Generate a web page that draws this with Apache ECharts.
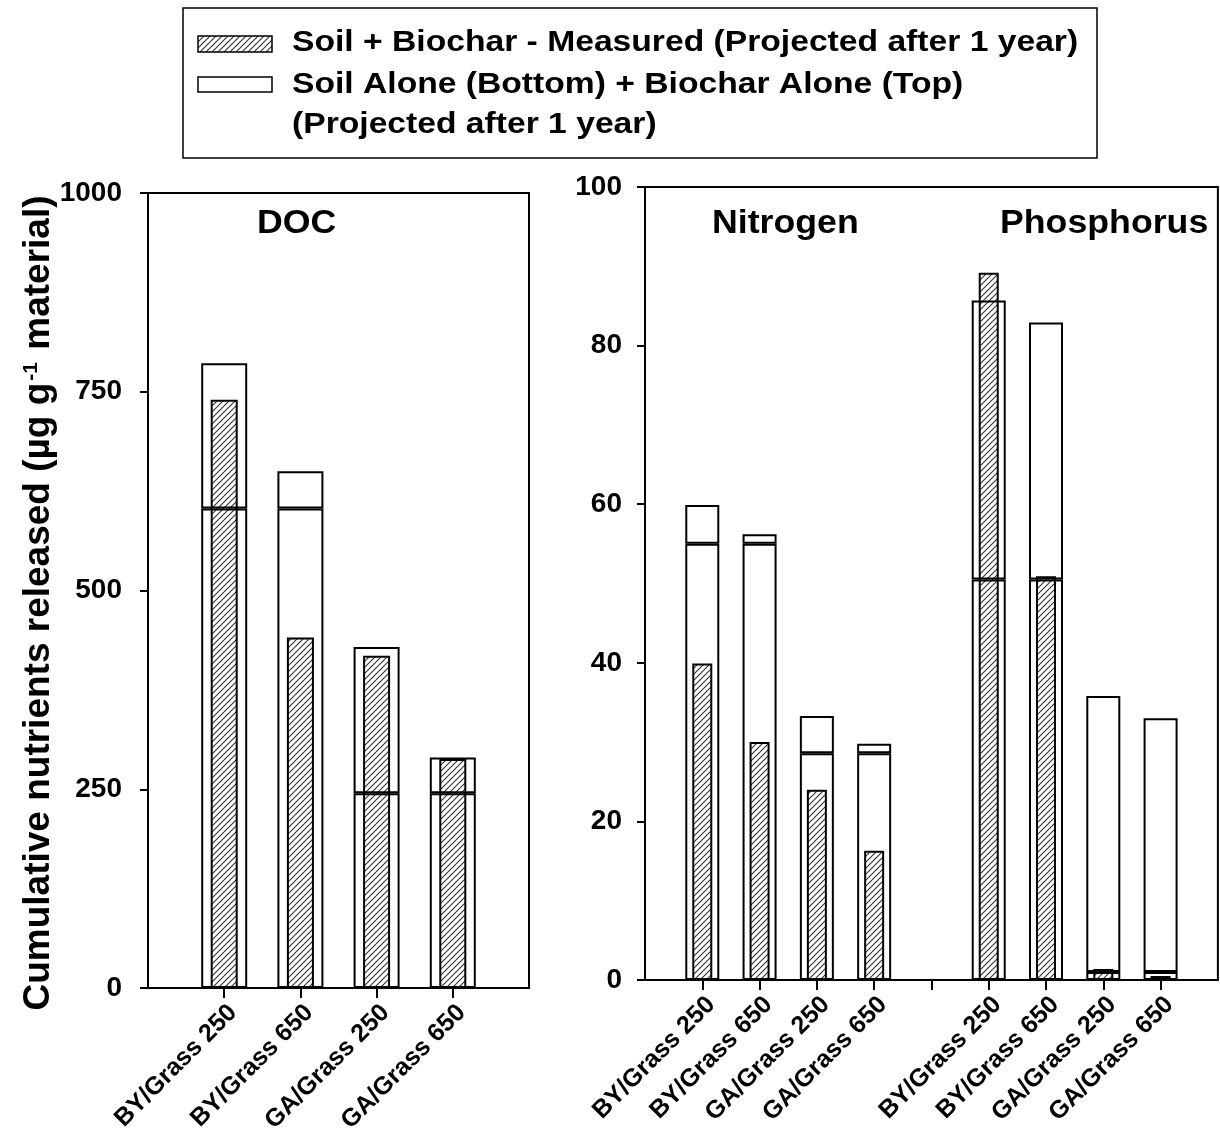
<!DOCTYPE html>
<html>
<head>
<meta charset="utf-8">
<script src="https://cdn.jsdelivr.net/npm/echarts@6/dist/echarts.min.js"></script>
<style>
  html, body { margin: 0; padding: 0; background: #fff; }
  #chart { width: 1220px; height: 1141px; }
</style>
</head>
<body>
<div id="chart"></div>
<script>
// values
const categories = ['BY/Grass 250', 'BY/Grass 650', 'GA/Grass 250', 'GA/Grass 650'];

const docSoil = [603, 603, 245, 245];
const docBiochar = [183, 47, 184, 45];
const docMeasured = [740, 441, 418, 288];

const nSoil = [55, 55, 28.6, 28.6];
const nBiochar = [4.9, 1.2, 4.7, 1.2];
const nMeasured = [39.9, 30, 24, 16.3];

const pSoil = [50.5, 50.5, 1.0, 1.0];
const pBiochar = [35.2, 32.4, 34.8, 32.0];
const pMeasured = [89.2, 50.9, 1.4, 0.5];

const docTicks = [0, 250, 500, 750, 1000];
const nutrientTicks = [0, 20, 40, 60, 80, 100];

const legendLabels = [
    'Soil + Biochar - Measured (Projected after 1 year)',
    'Soil Alone (Bottom) + Biochar Alone (Top)',
    '(Projected after 1 year)'
];
const panelTitles = ['DOC', 'Nitrogen', 'Phosphorus'];
const yTitle = 'Cumulative nutrients released (µg g{sup|-1} material)';

const FONT = '"Liberation Sans", Arial, sans-serif';

// diagonal hatch pattern
const hatch = (() => {
    const c = document.createElement('canvas');
    c.width = 6; c.height = 6;
    const g = c.getContext('2d');
    g.fillStyle = '#fff';
    g.fillRect(0, 0, 6, 6);
    g.strokeStyle = '#333';
    g.lineWidth = 1.1;
    g.beginPath();
    g.moveTo(-1, 7); g.lineTo(7, -1);
    g.moveTo(-4, 4); g.lineTo(4, -4);
    g.moveTo(2, 10); g.lineTo(10, 2);
    g.stroke();
    return { image: c, repeat: 'repeat' };
})();

const leftCats = [''].concat(categories, ['']);
const rightCats = [''].concat(categories, [''], categories, ['']);
const pad = (a) => ['-'].concat(a, ['-']);
const padTwo = (a, b) => ['-'].concat(a, ['-'], b, ['-']);

const tickIdx = (n) => (i) => i > 0 && i < n - 1;

const makeX = (gridIndex, data, show) => ({
    type: 'category',
    gridIndex: gridIndex,
    data: data,
    boundaryGap: false,
    show: show,
    axisLine: { lineStyle: { color: '#000', width: 2 } },
    axisTick: { show: true, interval: tickIdx(data.length), length: 10, lineStyle: { color: '#000', width: 2 } },
    axisLabel: {
        interval: 0, rotate: 45, margin: 12, verticalAlign: 'top',
        color: '#000', fontFamily: FONT, fontWeight: 'bold', fontSize: 25
    },
    splitLine: { show: false }
});

const makeY = (gridIndex, ticks, margin) => ({
    type: 'value',
    gridIndex: gridIndex,
    min: ticks[0],
    max: ticks[ticks.length - 1],
    interval: ticks[1] - ticks[0],
    axisLine: { show: true, lineStyle: { color: '#000', width: 2 } },
    axisTick: { show: true, length: 8, lineStyle: { color: '#000', width: 2 } },
    axisLabel: {
        margin: margin, color: '#000', fontFamily: FONT, fontWeight: 'bold', fontSize: 28,
        formatter: (v) => String(v)
    },
    splitLine: { show: false }
});

const openStyle = { color: 'rgba(0,0,0,0)', borderColor: '#000', borderWidth: 2 };
const hatchStyle = { color: hatch, borderColor: '#000', borderWidth: 2 };

const legendText = (i, y) => ({
    type: 'text', x: 292, y: y, scaleX: 1.16,
    style: { text: legendLabels[i], fill: '#000', font: 'bold 29px ' + FONT, verticalAlign: 'middle' }
});
const titleText = (i, x) => ({
    type: 'text', x: x, y: 224, scaleX: 1.05,
    style: { text: panelTitles[i], fill: '#000', font: 'bold 34px ' + FONT, verticalAlign: 'middle' }
});

const chart = echarts.init(document.getElementById('chart'), null, { renderer: 'canvas' });

const option = {
    backgroundColor: '#fff',
    animation: false,
    grid: [
        { left: 148, top: 193, width: 381, height: 795, show: true, borderColor: '#000', borderWidth: 2, backgroundColor: 'transparent' },
        { left: 645, top: 187, width: 573, height: 793, show: true, borderColor: '#000', borderWidth: 2, backgroundColor: 'transparent' }
    ],
    xAxis: [
        makeX(0, leftCats, true),
        makeX(0, leftCats, false),
        makeX(1, rightCats, true),
        makeX(1, rightCats, false)
    ],
    yAxis: [
        makeY(0, docTicks, 26),
        makeY(1, nutrientTicks, 23)
    ],
    series: [
        // measured (hatched) bars
        { type: 'bar', xAxisIndex: 1, yAxisIndex: 0, barWidth: 27, z: 2, itemStyle: hatchStyle, data: pad(docMeasured) },
        { type: 'bar', xAxisIndex: 3, yAxisIndex: 1, barWidth: 20, z: 2, itemStyle: hatchStyle, data: padTwo(nMeasured, pMeasured) },
        // soil alone (bottom) + biochar alone (top)
        { type: 'bar', xAxisIndex: 0, yAxisIndex: 0, stack: 'doc', barWidth: 46, z: 3, itemStyle: openStyle, data: pad(docSoil) },
        { type: 'bar', xAxisIndex: 0, yAxisIndex: 0, stack: 'doc', barWidth: 46, z: 3, itemStyle: openStyle, data: pad(docBiochar) },
        { type: 'bar', xAxisIndex: 2, yAxisIndex: 1, stack: 'nut', barWidth: 34, z: 3, itemStyle: openStyle, data: padTwo(nSoil, pSoil) },
        { type: 'bar', xAxisIndex: 2, yAxisIndex: 1, stack: 'nut', barWidth: 34, z: 3, itemStyle: openStyle, data: padTwo(nBiochar, pBiochar) }
    ],
    graphic: [
        { type: 'rect', shape: { x: 183, y: 8, width: 914, height: 150 }, style: { fill: '#fff', stroke: '#000', lineWidth: 1.5 } },
        { type: 'rect', shape: { x: 198, y: 36, width: 74, height: 16 }, style: { fill: hatch, stroke: '#000', lineWidth: 1.5 } },
        { type: 'rect', shape: { x: 198, y: 77, width: 74, height: 15 }, style: { fill: '#fff', stroke: '#000', lineWidth: 1.5 } },
        legendText(0, 43),
        legendText(1, 85),
        legendText(2, 125),
        titleText(0, 257),
        titleText(1, 712),
        titleText(2, 1000),
        {
            type: 'text', x: 39, y: 603, rotation: Math.PI / 2,
            style: {
                text: yTitle, fill: '#000', fontFamily: FONT, fontWeight: 'bold', fontSize: 37,
                align: 'center', verticalAlign: 'middle',
                rich: { sup: { fill: '#000', fontFamily: FONT, fontWeight: 'bold', fontSize: 21, verticalAlign: 'top', padding: [0, 2, 16, 2] } }
            }
        }
    ]
};

chart.setOption(option);
</script>
</body>
</html>
